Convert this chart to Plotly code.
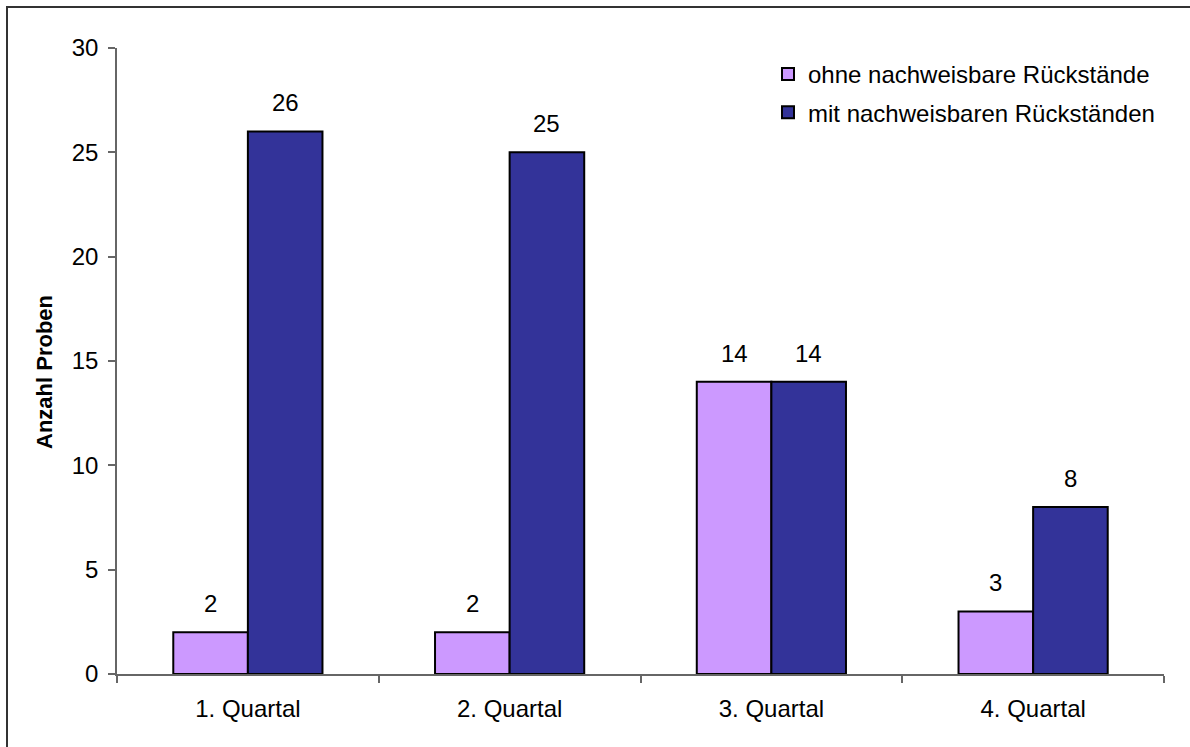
import plotly.graph_objects as go

categories = ["1. Quartal", "2. Quartal", "3. Quartal", "4. Quartal"]
ohne = [2, 2, 14, 3]
mit = [26, 25, 14, 8]
series_names = ["ohne nachweisbare Rückstände", "mit nachweisbaren Rückständen"]
y_ticks = [0, 5, 10, 15, 20, 25, 30]
y_title = "Anzahl Proben"

FONT = "Liberation Sans, Arial, sans-serif"
FS = 24
W, H = 1190, 747
L, R, T, B = 117, 26, 48, 73
pw, ph = W - L - R, H - T - B
BARGAP = 0.43
cat_px = pw / len(categories)
bar_px = cat_px * (1 - BARGAP) / 2

fig = go.Figure()
colors = ["#CC99FF", "#333399"]
for i, (name, vals) in enumerate(zip(series_names, [ohne, mit])):
    fig.add_trace(go.Bar(x=categories, y=vals, name=name, legendgroup=f"g{i}",
                         marker=dict(color=colors[i], line=dict(color="#000000", width=2))))
    shift = (i - 0.5) * bar_px
    for c, v in zip(categories, vals):
        fig.add_annotation(x=c, y=v, text=str(v), showarrow=False, xshift=shift,
                           yanchor="bottom", yshift=13,
                           font=dict(size=FS, color="#000000", family=FONT))

# y-axis title
fig.add_annotation(xref="paper", yref="paper", x=(44 - L) / pw, y=(T + ph - 372) / ph,
                   text=f"<b>{y_title}</b>", textangle=-90, showarrow=False,
                   xanchor="center", yanchor="middle",
                   font=dict(size=22, color="#000000", family=FONT))

# outer border (only top/left visible in the picture)
fig.add_shape(type="rect", xref="paper", yref="paper",
              x0=(7 - L) / pw, x1=(W + 20 - L) / pw,
              y0=-(H + 20 - (T + ph)) / ph, y1=1 + (T - 7) / ph,
              line=dict(color="#333333", width=2), fillcolor="rgba(0,0,0,0)", layer="below")

fig.update_layout(
    width=W, height=H,
    margin=dict(l=L, r=R, t=T, b=B, pad=0),
    paper_bgcolor="white", plot_bgcolor="white",
    barmode="group", bargap=BARGAP, bargroupgap=0,
    font=dict(family=FONT, size=FS, color="#000000"),
    showlegend=True,
    legend=dict(x=(768 - L) / pw, y=1 - (52 - T) / ph, xanchor="left", yanchor="top",
                bgcolor="rgba(0,0,0,0)", font=dict(size=FS, family=FONT),
                tracegroupgap=4, itemsizing="constant"),
    xaxis=dict(showline=True, linecolor="#666666", linewidth=1.5,
               ticks="outside", tickson="boundaries", ticklen=7, tickcolor="#666666",
               tickwidth=1.5, tickfont=dict(size=FS), showgrid=False, zeroline=False,
               ticklabelstandoff=12),
    yaxis=dict(range=[0, 30], tickvals=y_ticks, showline=True, linecolor="#666666",
               linewidth=1.5, ticks="outside", ticklen=7, tickcolor="#666666", tickwidth=1.5,
               tickfont=dict(size=FS), showgrid=False, zeroline=False, ticklabelstandoff=5),
)

fig.write_html("out.html")
